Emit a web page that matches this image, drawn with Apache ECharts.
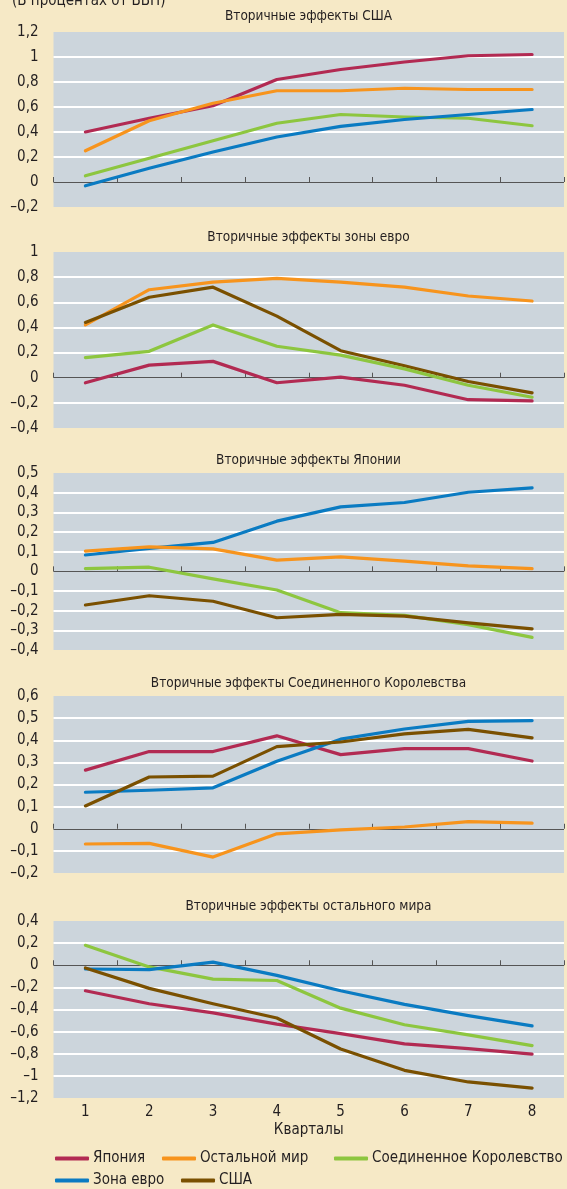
<!DOCTYPE html>
<html><head><meta charset="utf-8">
<script src="https://cdn.jsdelivr.net/npm/echarts@6/dist/echarts.min.js"></script>
<style>html,body{margin:0;padding:0;background:#F6E9C6;}#c{width:567px;height:1189px;}</style>
</head><body><div id="c"></div>
<script>
const quarters = ['1','2','3','4','5','6','7','8'];
const panelTitles = ['Вторичные эффекты США','Вторичные эффекты зоны евро','Вторичные эффекты Японии','Вторичные эффекты Соединенного Королевства','Вторичные эффекты остального мира'];
const unitNote = '(В процентах от ВВП)';
const xName = 'Кварталы';
const names = {jp:'Япония', row:'Остальной мир', uk:'Соединенное Королевство', ea:'Зона евро', us:'США'};
// Panel 1: US spillovers
const p1_jp  = [0.40, 0.51, 0.61, 0.82, 0.90, 0.96, 1.01, 1.02];
const p1_row = [0.25, 0.49, 0.63, 0.73, 0.73, 0.75, 0.74, 0.74];
const p1_uk  = [0.05, 0.19, 0.33, 0.47, 0.54, 0.52, 0.51, 0.45];
const p1_ea  = [-0.03, 0.11, 0.24, 0.36, 0.445, 0.50, 0.54, 0.58];
// Panel 2: euro area spillovers
const p2_row = [0.42, 0.70, 0.76, 0.79, 0.76, 0.72, 0.65, 0.61];
const p2_us  = [0.44, 0.64, 0.72, 0.49, 0.215, 0.095, -0.03, -0.12];
const p2_uk  = [0.16, 0.21, 0.42, 0.25, 0.18, 0.07, -0.06, -0.155];
const p2_jp  = [-0.04, 0.10, 0.13, -0.04, 0.005, -0.06, -0.175, -0.185];
// Panel 3: Japan spillovers
const p3_ea  = [0.083, 0.117, 0.147, 0.255, 0.328, 0.35, 0.402, 0.424];
const p3_row = [0.103, 0.124, 0.114, 0.057, 0.074, 0.052, 0.028, 0.014];
const p3_uk  = [0.014, 0.021, -0.038, -0.095, -0.21, -0.224, -0.271, -0.336];
const p3_us  = [-0.171, -0.124, -0.152, -0.236, -0.219, -0.228, -0.262, -0.293];
// Panel 4: UK spillovers
const p4_jp  = [0.265, 0.349, 0.349, 0.42, 0.335, 0.362, 0.362, 0.306];
const p4_ea  = [0.165, 0.174, 0.185, 0.305, 0.405, 0.451, 0.485, 0.489];
const p4_us  = [0.103, 0.234, 0.238, 0.371, 0.392, 0.429, 0.449, 0.411];
const p4_row = [-0.069, -0.066, -0.128, -0.023, -0.005, 0.008, 0.032, 0.025];
// Panel 5: rest of world spillovers
const p5_uk  = [0.18, -0.015, -0.126, -0.138, -0.388, -0.538, -0.63, -0.726];
const p5_ea  = [-0.034, -0.04, 0.028, -0.092, -0.231, -0.354, -0.455, -0.548];
const p5_jp  = [-0.231, -0.348, -0.431, -0.532, -0.618, -0.711, -0.754, -0.803];
const p5_us  = [-0.025, -0.209, -0.348, -0.477, -0.757, -0.95, -1.055, -1.11];
// Axis ranges [min, max, interval]
const yRanges = [[-0.2,1.2,0.2],[-0.4,1,0.2],[-0.4,0.5,0.1],[-0.2,0.6,0.1],[-1.2,0.4,0.2]];

const colors = {jp:'#B22A52', row:'#F7941D', uk:'#8DC63F', ea:'#0A7BC2', us:'#7A5000'};
const panelSeries = [
  [['jp',p1_jp],['row',p1_row],['uk',p1_uk],['ea',p1_ea]],
  [['row',p2_row],['us',p2_us],['uk',p2_uk],['jp',p2_jp]],
  [['ea',p3_ea],['row',p3_row],['uk',p3_uk],['us',p3_us]],
  [['jp',p4_jp],['ea',p4_ea],['us',p4_us],['row',p4_row]],
  [['uk',p5_uk],['ea',p5_ea],['jp',p5_jp],['us',p5_us]]
];
const gridTops = [32, 252, 473, 696, 921];
const gridHeights = [175, 176, 177, 177, 177];
const titleY = [16, 237, 460, 683, 906];
const FONT = '"DejaVu Sans Condensed","Liberation Sans Narrow",sans-serif';
const TXT = '#231F20';

function fmt(v){
  let r = Math.round(v*100)/100;
  if (Math.abs(r) < 1e-9) return '0';
  let s = String(Math.abs(r)).replace('.', ',');
  return (r < 0 ? '–' : '') + s;
}
function splitColors(r){
  const n = Math.round((r[1]-r[0])/r[2]) + 1;
  const arr = [];
  for (let i=0;i<n;i++){
    const v = r[0] + i*r[2];
    if (i===0 || i===n-1 || Math.abs(v) < 1e-9) arr.push('rgba(0,0,0,0)');
    else arr.push('#FFFFFF');
  }
  return arr;
}

const grid = [], xAxis = [], yAxis = [], series = [], graphic = [];
for (let p=0;p<5;p++){
  grid.push({left:53.5, right:3, top:gridTops[p], height:gridHeights[p], backgroundColor:'#CCD5DC', show:true, borderWidth:0});
  const last = p===4;
  xAxis.push({type:'category', gridIndex:p, data:quarters, boundaryGap:true,
    axisLine:{show:false},
    axisTick:{show:true, inside:true, length:5, lineStyle:{color:'#555', width:1}},
    axisLabel:{show:last, margin:7, fontFamily:FONT, fontSize:15, color:TXT},
    name: last ? xName : '', nameLocation:'middle', nameGap:25,
    nameTextStyle:{fontFamily:FONT, fontSize:15, color:TXT},
    splitLine:{show:false}});
  const r = yRanges[p];
  yAxis.push({type:'value', gridIndex:p, min:r[0], max:r[1], interval:r[2],
    axisLine:{show:false}, axisTick:{show:false},
    axisLabel:{margin:15, fontFamily:FONT, fontSize:15, color:TXT, formatter:fmt, showMinLabel:true, showMaxLabel:true},
    splitLine:{show:true, lineStyle:{color:splitColors(r), width:2}}});
  panelSeries[p].forEach((s, i) => {
    const ser = {type:'line', name:names[s[0]], xAxisIndex:p, yAxisIndex:p, data:s[1],
      showSymbol:false, symbol:'none', lineStyle:{width:3.2, color:colors[s[0]], cap:'round', join:'round'},
      itemStyle:{color:colors[s[0]]}, z:3, animation:false};
    if (i===0){
      ser.markLine = {silent:true, symbol:'none', z:1, animation:false, label:{show:false},
        lineStyle:{color:'#555', width:1.2, type:'solid'}, data:[{yAxis:0}]};
    }
    series.push(ser);
  });
  graphic.push({type:'text', x:308.5, y:titleY[p],
    style:{text:panelTitles[p], fill:TXT, font:'13.5px '+FONT, textAlign:'center', textVerticalAlign:'middle'}});
}
graphic.push({type:'text', x:12, y:1, style:{text:unitNote, fill:TXT, font:'15px '+FONT, textAlign:'left', textVerticalAlign:'middle'}});

const legendPos = [['jp',55,1151],['row',162,1151],['uk',334,1151],['ea',55,1173],['us',181,1173]];
const legend = legendPos.map(l => ({data:[names[l[0]]], left:l[1], top:l[2], padding:0, icon:'roundRect',
  itemWidth:34, itemHeight:4, selectedMode:false,
  textStyle:{fontFamily:FONT, fontSize:15, color:TXT, padding:[0,0,0,-1]}}));

const chart = echarts.init(document.getElementById('c'), null, {renderer:'canvas'});
chart.setOption({backgroundColor:'#F6E9C6', animation:false, grid, xAxis, yAxis, series, legend, graphic});
</script></body></html>
